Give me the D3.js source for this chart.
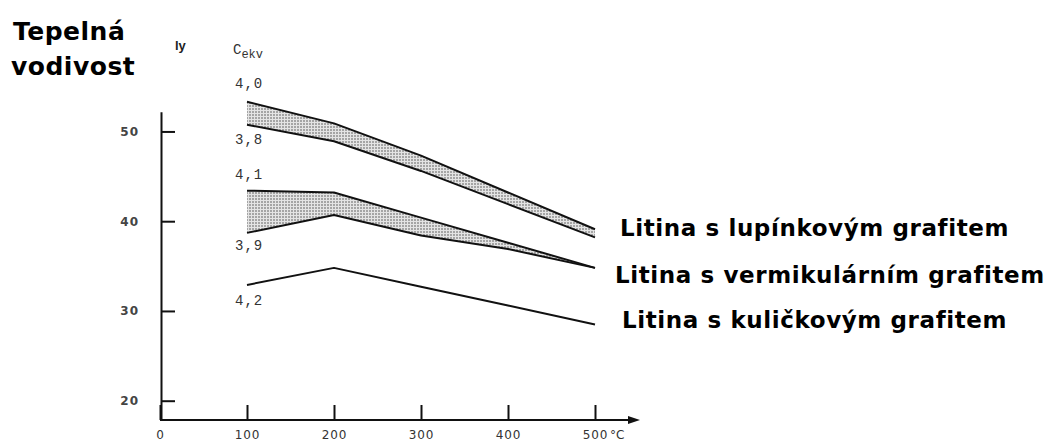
<!DOCTYPE html>
<html><head><meta charset="utf-8">
<script src="https://cdn.jsdelivr.net/npm/d3@7"></script>
<style>
html,body{margin:0;padding:0;background:#fff;}
svg{display:block;}
</style></head>
<body>
<svg id="chart" width="1050" height="441"></svg>
<script>
// ---- data ----
const temps = [100, 200, 300, 400, 500];
const xTicks = [0, 100, 200, 300, 400, 500];
const yTicks = [20, 30, 40, 50];
const flakeUpper = [53.3, 50.9, 47.3, 43.2, 39.1];   // Cekv 4,0
const flakeLower = [50.75, 48.9, 45.6, 41.9, 38.2];  // Cekv 3,8
const vermUpper  = [43.4, 43.2, 40.4, 37.6, 34.8];   // Cekv 4,1
const vermLower  = [38.7, 40.7, 38.4, 36.9, 34.8];   // Cekv 3,9
const nodular    = [32.9, 34.8, 32.7, 30.6, 28.5];   // Cekv 4,2
const cekvLabels = ["4,0", "3,8", "4,1", "3,9", "4,2"];
const seriesNames = ["Litina s lupínkovým grafitem", "Litina s vermikulárním grafitem", "Litina s kuličkovým grafitem"];

const svg = d3.select("#chart");
const x = d3.scaleLinear().domain([0, 500]).range([160, 595]);
const y = d3.scaleLinear().domain([17.85, 52.2]).range([420, 111.7]);

// pattern
const defs = svg.append("defs");
const pat = defs.append("pattern").attr("id", "dots").attr("patternUnits", "userSpaceOnUse")
  .attr("width", 3).attr("height", 3);
pat.append("rect").attr("width", 3).attr("height", 3).attr("fill", "#e4e4e4");
pat.append("circle").attr("cx", 1).attr("cy", 1).attr("r", 0.8).attr("fill", "#555");

// y axis
const yAxis = svg.append("g").attr("transform", "translate(161,0)")
  .call(d3.axisLeft(y).tickValues(yTicks).tickSizeInner(-14).tickSizeOuter(0).tickPadding(22).tickFormat(d3.format("d")));
yAxis.selectAll("path.domain").attr("stroke", "#111").attr("stroke-width", 2);
yAxis.selectAll(".tick line").attr("stroke", "#111").attr("stroke-width", 2);
yAxis.selectAll("text").attr("font-family", "DejaVu Sans").attr("font-weight", "bold")
  .attr("font-size", 12).attr("fill", "#444").attr("letter-spacing", 1);

// x axis
const xAxis = svg.append("g").attr("transform", "translate(0,420)")
  .call(d3.axisBottom(x).tickValues(xTicks).tickSizeInner(-15).tickSizeOuter(0).tickPadding(10).tickFormat(d3.format("d")));
xAxis.select("path.domain").remove();
xAxis.selectAll(".tick line").attr("stroke", "#111").attr("stroke-width", 2);
xAxis.selectAll("text").attr("font-family", "DejaVu Sans").attr("font-size", 12).attr("fill", "#333")
  .attr("letter-spacing", 0.8);
svg.append("line").attr("x1", 160).attr("x2", 632).attr("y1", 420).attr("y2", 420)
  .attr("stroke", "#111").attr("stroke-width", 2);
svg.append("path").attr("d", "M628,416 L640,420 L628,424 Z").attr("fill", "#111");
svg.append("text").attr("x", 610).attr("y", 439).attr("font-family", "DejaVu Sans")
  .attr("font-size", 12).attr("fill", "#333").text("°C");

// bands
const rows = (a, b) => temps.map((t, i) => ({t, lo: a[i], hi: b[i]}));
const area = d3.area().x(d => x(d.t)).y0(d => y(d.lo)).y1(d => y(d.hi));
const line = d3.line().x(d => x(d.t)).y(d => y(d.v));
svg.append("path").datum(rows(flakeLower, flakeUpper)).attr("d", area).attr("fill", "url(#dots)");
svg.append("path").datum(rows(vermLower, vermUpper)).attr("d", area).attr("fill", "url(#dots)");

[flakeUpper, flakeLower, vermUpper, vermLower, nodular].forEach(s => {
  svg.append("path").datum(temps.map((t, i) => ({t, v: s[i]})))
    .attr("d", line).attr("fill", "none").attr("stroke", "#111").attr("stroke-width", 2)
    .attr("stroke-linejoin", "round");
});

// Cekv labels near start of each curve
const startVals = [flakeUpper[0], flakeLower[0], vermUpper[0], vermLower[0], nodular[0]];
const offs = [-14, 19, -12, 17, 20];
cekvLabels.forEach((lab, i) => {
  svg.append("text").attr("x", x(temps[0]) - 12).attr("y", y(startVals[i]) + offs[i])
    .attr("font-family", "Liberation Mono").attr("font-size", 14).attr("fill", "#333")
    .attr("letter-spacing", 1).text(lab);
});
const ck = svg.append("text").attr("x", 233).attr("y", 54).attr("font-family", "Liberation Mono")
  .attr("font-size", 14).attr("fill", "#333");
ck.append("tspan").text("C");
ck.append("tspan").attr("dy", 4).attr("font-size", 12).text("ekv");

// titles
const title = svg.append("text").attr("font-family", "DejaVu Sans").attr("font-weight", "bold")
  .attr("font-size", 25).attr("letter-spacing", 0.5).attr("fill", "#000");
title.append("tspan").attr("x", 13).attr("y", 40).text("Tepelná");
title.append("tspan").attr("x", 11).attr("y", 75).text("vodivost");
svg.append("text").attr("x", 175).attr("y", 50).attr("font-family", "Liberation Sans")
  .attr("font-weight", "bold").attr("font-size", 13).attr("fill", "#222").text("ly");

// series labels
const labelPos = [{x: 620, y: 236}, {x: 615, y: 283}, {x: 622, y: 328}];
seriesNames.forEach((n, i) => {
  svg.append("text").attr("x", labelPos[i].x).attr("y", labelPos[i].y)
    .attr("font-family", "DejaVu Sans").attr("font-weight", "bold").attr("font-size", 23)
    .attr("letter-spacing", 0.6).attr("fill", "#000").text(n);
});
</script>
</body></html>
